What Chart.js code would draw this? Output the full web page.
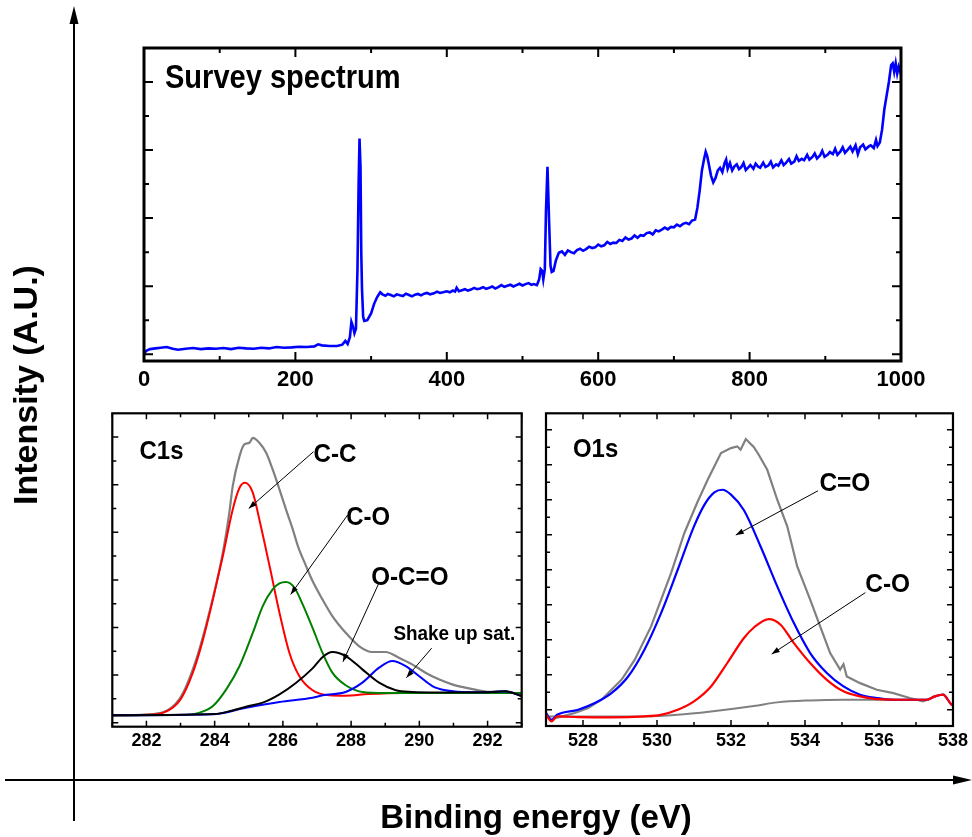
<!DOCTYPE html>
<html>
<head>
<meta charset="utf-8">
<script src="https://cdn.jsdelivr.net/npm/chart.js@4.4.1/dist/chart.umd.min.js"></script>
<style>
  html, body { margin: 0; padding: 0; background: #fff; }
  #wrap { position: relative; width: 972px; height: 837px; }
  #wrap canvas { position: absolute; left: 0; top: 0; }
</style>
</head>
<body>
<div id="wrap">
  <canvas id="survey" width="972" height="837"></canvas>
  <canvas id="c1s" width="972" height="837"></canvas>
  <canvas id="o1s" width="972" height="837"></canvas>
</div>
<script>
// tick labels
const surveyTicks = [0, 200, 400, 600, 800, 1000];
const c1sTicks = [282, 284, 286, 288, 290, 292];
const o1sTicks = [528, 530, 532, 534, 536, 538];

// survey spectrum [binding energy eV, intensity a.u.]
const survey = [
  [0,0.02],[3,0.10],[8,0.15],[15,0.17],[22,0.19],[30,0.21],[38,0.16],[45,0.13],[55,0.16],[65,0.18],
  [75,0.15],[85,0.17],[95,0.16],[105,0.18],[115,0.15],[125,0.19],[135,0.17],[145,0.16],[155,0.19],[165,0.17],
  [175,0.21],[185,0.19],[195,0.20],[205,0.22],[215,0.21],[225,0.23],[230,0.29],[235,0.26],[245,0.24],[255,0.24],
  [262,0.28],[266,0.39],[269,0.30],[272,0.50],[274,0.95],[276,0.82],[278,0.62],[280,0.75],[282,2.5],[283.5,5.0],
  [284.7,6.34],[286,5.5],[287,3.0],[288,1.9],[289.5,1.1],[291,0.98],[295,1.0],[300,1.2],[304,1.48],[308,1.68],
  [312,1.82],[315,1.76],[319,1.72],[322,1.77],[326,1.74],[330,1.70],[334,1.76],[338,1.73],[342,1.71],[346,1.78],
  [350,1.74],[354,1.70],[358,1.75],[362,1.77],[366,1.73],[370,1.78],[374,1.80],[378,1.76],[383,1.79],[387,1.84],
  [391,1.80],[395,1.82],[400,1.85],[404,1.82],[408,1.87],[411,1.84],[413,1.95],[416,1.85],[420,1.88],[424,1.91],
  [428,1.87],[432,1.90],[436,1.95],[440,1.91],[444,1.93],[448,1.97],[452,1.92],[456,1.95],[460,1.99],[464,1.93],
  [468,1.97],[472,2.03],[476,1.98],[480,2.01],[484,2.04],[488,1.99],[492,2.03],[496,2.07],[500,2.02],[504,2.06],
  [508,2.09],[512,2.04],[515,2.06],[519,2.03],[522,2.2],[524,2.5],[526,2.45],[527.5,2.2],[529.5,2.5],[531,4.2],
  [533,5.51],[535,4.0],[537,2.6],[538.6,2.42],[541,2.45],[544,2.75],[548,2.98],[552,3.02],[556,2.92],[560,3.05],
  [564,3.00],[568,2.97],[572,3.06],[576,3.10],[580,3.04],[584,3.09],[588,3.16],[592,3.12],[596,3.14],[600,3.22],
  [604,3.17],[608,3.20],[612,3.30],[616,3.24],[620,3.28],[624,3.27],[628,3.36],[632,3.33],[636,3.43],[640,3.37],
  [644,3.40],[648,3.49],[652,3.42],[656,3.50],[660,3.48],[664,3.56],[668,3.58],[672,3.52],[676,3.64],[680,3.61],
  [684,3.66],[688,3.72],[692,3.67],[696,3.74],[700,3.73],[704,3.81],[708,3.76],[712,3.83],[716,3.86],[720,3.82],
  [724,3.93],[728,3.96],[731,4.3],[734,4.8],[737,5.4],[740,5.75],[742,5.95],[744,5.82],[746,5.60],[749,5.25],
  [752,5.05],[755,5.18],[758,5.40],[761,5.48],[764,5.35],[767,5.62],[769,5.72],[771,5.45],[774,5.62],[777,5.40],
  [780,5.52],[783,5.58],[786,5.44],[789,5.50],[792,5.62],[795,5.41],[798,5.48],[801,5.56],[805,5.45],[808,5.60],
  [811,5.52],[814,5.48],[818,5.63],[821,5.50],[825,5.55],[828,5.66],[831,5.49],[835,5.58],[838,5.54],[842,5.70],
  [845,5.56],[848,5.62],[852,5.74],[855,5.60],[859,5.66],[862,5.82],[865,5.68],[869,5.74],[872,5.70],[876,5.86],
  [879,5.72],[883,5.80],[886,5.90],[889,5.75],[893,5.84],[896,5.98],[899,5.80],[903,5.86],[906,5.94],[910,5.88],
  [913,6.04],[916,5.86],[920,5.96],[923,6.08],[926,5.92],[930,6.02],[933,6.10],[936,5.96],[940,6.14],[943,5.88],
  [946,6.08],[950,6.16],[953,6.02],[957,6.10],[960,6.14],[964,6.06],[967,6.30],[969,6.12],[972,6.22],[975,6.6],
  [978,7.2],[981,7.6],[984,8.0],[987,8.5],[989,8.55],[991,8.30],[993,8.55],[995,8.25],[997,8.45],[999,8.30],
  [1000,8.42]
];

// C1s region
const c1sEnvelope = [
  [281,0.31],[282,0.34],[282.97,1.0],[283.46,2.66],[283.95,5.25],[284.24,7.14],[284.43,8.82],[284.53,9.94],
  [284.73,11.2],[284.87,11.69],[285.02,11.76],[285.12,11.97],[285.31,11.76],[285.51,11.34],[285.7,10.64],
  [285.9,9.8],[286.09,8.96],[286.29,8.12],[286.44,7.42],[286.68,6.58],[286.87,5.95],[287.16,5.18],[287.45,4.48],
  [287.84,3.78],[288.23,3.22],[288.62,2.97],[289.01,2.97],[289.4,2.73],[289.79,2.45],[290.18,2.1],[290.57,1.82],
  [290.96,1.61],[291.35,1.47],[291.74,1.36],[292.13,1.29],[292.52,1.32],[292.91,1.19],[293,1.15]
];
const c1sCC = [
  [281,0.31],[282,0.33],[282.5,0.42],[283,0.98],[283.36,2.1],[283.66,3.5],[283.95,5.18],[284.24,7.0],
  [284.53,8.96],[284.73,9.87],[284.89,10.08],[285.12,9.66],[285.31,8.54],[285.61,6.58],[285.9,4.62],
  [286.19,2.94],[286.48,1.96],[286.87,1.36],[287.36,1.15],[287.84,1.13],[288.5,1.2],[289.5,1.25],[293,1.25]
];
const c1sCO = [
  [281,0.31],[283,0.32],[283.56,0.42],[283.95,0.7],[284.34,1.4],[284.73,2.38],[285.12,3.78],[285.41,4.9],
  [285.7,5.6],[285.9,5.85],[286.09,5.91],[286.34,5.67],[286.58,4.97],[286.87,3.98],[287.16,2.94],[287.45,2.1],
  [287.84,1.57],[288.33,1.29],[289,1.25],[293,1.25]
];
const c1sOCO = [
  [281,0.31],[284,0.36],[284.5,0.5],[284.92,0.67],[285.41,0.84],[285.9,1.19],[286.39,1.68],[286.87,2.28],
  [287.16,2.75],[287.45,2.97],[287.84,2.8],[288.33,2.24],[288.82,1.68],[289.31,1.36],[289.79,1.29],
  [290.5,1.27],[292,1.28],[292.5,1.32],[293,1.12]
];
const c1sSat = [
  [281,0.31],[283.95,0.35],[284.92,0.63],[285.9,0.87],[286.87,1.05],[287.17,1.15],[287.84,1.29],[288.33,1.68],
  [288.82,2.31],[289.21,2.59],[289.6,2.38],[289.99,1.96],[290.38,1.54],[290.77,1.36],[291.26,1.29],
  [292,1.28],[292.5,1.32],[293,1.12]
];

// O1s region
const o1sEnvelope = [
  [527.25,-0.48],[527.78,-0.19],[528.14,0.1],[528.5,0.57],[529.04,1.71],[529.4,2.86],[529.84,4.76],
  [530.38,7.81],[530.74,10.1],[531.1,11.9],[531.37,13.14],[531.73,14.67],[532.0,14.95],[532.17,15.05],
  [532.26,14.86],[532.4,15.47],[532.62,15.0],[532.75,14.57],[532.98,13.71],[533.25,12.0],[533.52,10.48],
  [533.79,8.19],[534.14,6.29],[534.41,4.76],[534.68,3.24],[534.95,2.29],[535.04,2.6],[535.13,1.9],
  [535.49,1.52],[535.94,1.14],[536.39,0.95],[536.83,0.67],[537.19,0.48],[537.3,0.57]
];
const o1sBackground = [
  [527.0,-0.38],[529.66,-0.38],[530.56,-0.29],[531.46,-0.1],[532.62,0.21],[533.25,0.42],[534.14,0.53],
  [535.04,0.57],[537.3,0.57]
];
const o1sCdO = [
  [527.0,-0.19],[527.15,-0.57],[527.3,-0.29],[527.87,0.0],[528.32,0.38],[528.77,0.95],[529.22,1.9],
  [529.66,3.43],[530.11,5.52],[530.56,8.0],[531.0,10.48],[531.28,11.71],[531.55,12.42],[531.77,12.57],
  [532.0,12.29],[532.35,11.4],[532.8,9.33],[533.25,7.05],[533.7,4.95],[534.14,3.24],[534.59,2.1],
  [535.04,1.33],[535.49,0.86],[535.94,0.67],[536.39,0.57],[537.28,0.57],[537.51,0.76],[537.73,0.86],
  [537.96,0.29],[538.0,0.25]
];
const o1sCO = [
  [527.0,-0.29],[527.15,-0.67],[527.3,-0.38],[527.87,-0.42],[528.77,-0.44],[529.66,-0.38],[530.1,-0.29],
  [530.56,0.0],[531.0,0.48],[531.46,1.33],[531.9,2.67],[532.35,4.1],[532.62,4.7],[533.02,5.18],[533.34,4.86],
  [533.7,3.81],[534.14,2.67],[534.59,1.71],[535.04,1.05],[535.49,0.76],[535.94,0.61],[536.83,0.57],
  [537.28,0.57],[537.51,0.76],[537.73,0.86],[537.96,0.29],[538.0,0.25]
];

const FONT = '"Liberation Sans", Arial, Helvetica, sans-serif';

function pts(arr) { return arr.map(p => ({ x: p[0], y: p[1] })); }
function range(a, b, s) { const r = []; for (let v = a; v <= b + 1e-9; v += s) r.push(v); return r; }

// inward ticks + box
const framePlugin = {
  id: 'frame',
  afterDatasetsDraw(chart, args, o) {
    const { ctx, chartArea: a, scales: { x, y } } = chart;
    ctx.save();
    ctx.strokeStyle = '#000';
    ctx.lineWidth = o.tickWidth;
    ctx.beginPath();
    const xt = (vals, len) => vals.forEach(v => {
      const px = x.getPixelForValue(v);
      ctx.moveTo(px, a.bottom); ctx.lineTo(px, a.bottom - len);
      ctx.moveTo(px, a.top); ctx.lineTo(px, a.top + len);
    });
    const yt = (vals, len) => vals.forEach(v => {
      const py = y.getPixelForValue(v);
      ctx.moveTo(a.left, py); ctx.lineTo(a.left + len, py);
      ctx.moveTo(a.right, py); ctx.lineTo(a.right - len, py);
    });
    xt(o.xMajor, o.major); xt(o.xMinor, o.minor);
    yt(o.yMajor, o.major); yt(o.yMinor, o.minor);
    ctx.stroke();
    ctx.lineWidth = o.border;
    ctx.strokeRect(a.left, a.top, a.right - a.left, a.bottom - a.top);
    ctx.restore();
  }
};

// panel labels and pointer arrows, placed in data coordinates
const notesPlugin = {
  id: 'notes',
  afterDatasetsDraw(chart, args, o) {
    const { ctx, scales: { x, y } } = chart;
    ctx.save();
    ctx.fillStyle = '#000';
    ctx.strokeStyle = '#000';
    (o.labels || []).forEach(l => {
      ctx.save();
      ctx.translate(x.getPixelForValue(l.at[0]), y.getPixelForValue(l.at[1]));
      ctx.scale(l.squeeze || 1, 1);
      ctx.font = 'bold ' + l.size + 'px ' + FONT;
      ctx.textAlign = 'left';
      ctx.textBaseline = 'alphabetic';
      ctx.fillText(l.text, 0, 0);
      ctx.restore();
    });
    (o.arrows || []).forEach(ar => {
      const x0 = x.getPixelForValue(ar[0][0]), y0 = y.getPixelForValue(ar[0][1]);
      const x1 = x.getPixelForValue(ar[1][0]), y1 = y.getPixelForValue(ar[1][1]);
      const ang = Math.atan2(y1 - y0, x1 - x0);
      ctx.lineWidth = 1;
      ctx.beginPath(); ctx.moveTo(x0, y0); ctx.lineTo(x1, y1); ctx.stroke();
      ctx.beginPath();
      ctx.moveTo(x1, y1);
      ctx.lineTo(x1 - 8 * Math.cos(ang) + 2.8 * Math.sin(ang), y1 - 8 * Math.sin(ang) - 2.8 * Math.cos(ang));
      ctx.lineTo(x1 - 8 * Math.cos(ang) - 2.8 * Math.sin(ang), y1 - 8 * Math.sin(ang) + 2.8 * Math.cos(ang));
      ctx.closePath(); ctx.fill();
    });
    ctx.restore();
  }
};

// big page axes (arrows + titles)
const pagePlugin = {
  id: 'page',
  afterDraw(chart) {
    const ctx = chart.ctx;
    ctx.save();
    ctx.strokeStyle = '#000'; ctx.fillStyle = '#000'; ctx.lineWidth = 2;
    ctx.beginPath(); ctx.moveTo(74, 821); ctx.lineTo(74, 22); ctx.stroke();
    ctx.beginPath(); ctx.moveTo(74, 6); ctx.lineTo(69.5, 24); ctx.lineTo(78.5, 24); ctx.closePath(); ctx.fill();
    ctx.beginPath(); ctx.moveTo(5, 780); ctx.lineTo(956, 780); ctx.stroke();
    ctx.beginPath(); ctx.moveTo(972, 780); ctx.lineTo(953, 775.5); ctx.lineTo(953, 784.5); ctx.closePath(); ctx.fill();
    ctx.font = 'bold 33px ' + FONT;
    ctx.textAlign = 'center'; ctx.textBaseline = 'alphabetic';
    ctx.fillText('Binding energy (eV)', 536, 828);
    ctx.translate(37, 385); ctx.rotate(-Math.PI / 2);
    ctx.font = 'bold 34px ' + FONT;
    ctx.fillText('Intensity (A.U.)', 0, 0);
    ctx.restore();
  }
};

function xAxis(min, max, ticks, size, pad) {
  return {
    type: 'linear', min: min, max: max,
    grid: { display: false, drawTicks: false },
    border: { display: false },
    afterBuildTicks: s => { s.ticks = ticks.map(v => ({ value: v })); },
    afterFit: s => { s.height = 30; },
    ticks: {
      color: '#000', padding: pad, maxRotation: 0, autoSkip: false,
      font: { family: FONT, size: size, weight: 'bold' },
      callback: v => String(v)
    }
  };
}

function line(data, color, width, smooth) {
  return {
    data: pts(data), borderColor: color, borderWidth: width, pointRadius: 0,
    fill: false, tension: 0, cubicInterpolationMode: smooth ? 'monotone' : 'default'
  };
}

const common = {
  responsive: false, animation: false, devicePixelRatio: 1, events: []
};

new Chart(document.getElementById('survey'), {
  type: 'line',
  data: { datasets: [line(survey, '#0000ff', 2.6, false)] },
  options: Object.assign({}, common, {
    layout: { padding: { left: 144, top: 48, right: 71, bottom: 837 - 361 - 30 } },
    scales: {
      x: xAxis(0, 1000, surveyTicks, 22, 6),
      y: { display: false, min: -0.2, max: 9.0 }
    },
    plugins: {
      legend: { display: false }, tooltip: { enabled: false },
      frame: { xMajor: surveyTicks, xMinor: range(100, 900, 200), yMajor: [0, 2, 4, 6, 8], yMinor: [1, 3, 5, 7],
               major: 9, minor: 5, tickWidth: 2, border: 3 },
      notes: { labels: [{ text: 'Survey spectrum', at: [27.7, 7.82], size: 33, squeeze: 0.88 }] }
    }
  }),
  plugins: [framePlugin, notesPlugin, pagePlugin]
});

new Chart(document.getElementById('c1s'), {
  type: 'line',
  data: { datasets: [
    line(c1sOCO, '#000000', 2, true),
    line(c1sSat, '#0000ff', 2, true),
    line(c1sCO, '#008000', 2, true),
    line(c1sCC, '#ff0000', 2, true),
    line(c1sEnvelope, '#808080', 2.2, true)
  ] },
  options: Object.assign({}, common, {
    layout: { padding: { left: 112.3, top: 413.3, right: 972 - 521.7, bottom: 837 - 726.7 - 30 } },
    scales: {
      x: xAxis(281, 293, c1sTicks, 18, 4),
      y: { display: false, min: -0.17, max: 13.0 }
    },
    plugins: {
      legend: { display: false }, tooltip: { enabled: false },
      frame: { xMajor: c1sTicks, xMinor: range(281, 293, 2), yMajor: range(0, 12, 2), yMinor: range(1, 11, 2),
               major: 6, minor: 4, tickWidth: 1.5, border: 2.2 },
      notes: {
        labels: [
          { text: 'C1s', at: [281.8, 11.09], size: 26, squeeze: 0.92 },
          { text: 'C-C', at: [286.9, 10.95], size: 26, squeeze: 0.93 },
          { text: 'C-O', at: [287.86, 8.3], size: 26, squeeze: 0.92 },
          { text: 'O-C=O', at: [288.59, 5.79], size: 26, squeeze: 0.93 },
          { text: 'Shake up sat.', at: [289.24, 3.47], size: 21, squeeze: 0.9 }
        ],
        arrows: [
          [[286.9, 11.39], [285.0, 9.0]],
          [[287.9, 8.73], [286.23, 5.39]],
          [[288.8, 5.82], [287.76, 2.56]],
          [[290.36, 3.13], [289.62, 1.89]]
        ]
      }
    }
  }),
  plugins: [framePlugin, notesPlugin]
});

new Chart(document.getElementById('o1s'), {
  type: 'line',
  data: { datasets: [
    line(o1sCO, '#ff0000', 2.2, true),
    line(o1sCdO, '#0000ff', 2.2, true),
    line(o1sBackground, '#808080', 2, true),
    line(o1sEnvelope, '#808080', 2.2, false)
  ] },
  options: Object.assign({}, common, {
    layout: { padding: { left: 546, top: 413.3, right: 972 - 955, bottom: 837 - 726 - 30 } },
    scales: {
      x: xAxis(527, 538, o1sTicks, 18, 4),
      y: { display: false, min: -0.93, max: 16.94 }
    },
    plugins: {
      legend: { display: false }, tooltip: { enabled: false },
      frame: { xMajor: o1sTicks, xMinor: range(527, 537, 2), yMajor: range(0, 16, 2), yMinor: range(1, 15, 2),
               major: 6, minor: 4, tickWidth: 1.5, border: 2.2 },
      notes: {
        labels: [
          { text: 'O1s', at: [527.73, 14.44], size: 26, squeeze: 0.92 },
          { text: 'C=O', at: [534.39, 12.51], size: 26, squeeze: 0.94 },
          { text: 'C-O', at: [535.63, 6.74], size: 26, squeeze: 0.94 }
        ],
        arrows: [
          [[534.35, 12.51], [532.13, 9.98]],
          [[535.63, 6.69], [533.1, 3.18]]
        ]
      }
    }
  }),
  plugins: [framePlugin, notesPlugin]
});
</script>
</body>
</html>
